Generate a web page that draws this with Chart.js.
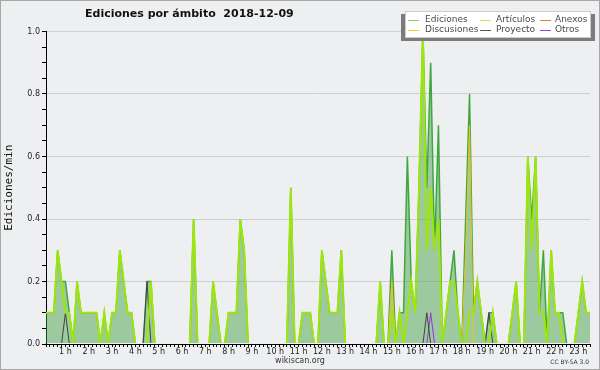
<!DOCTYPE html>
<html lang="es">
<head>
<meta charset="UTF-8">
<title>Ediciones por ámbito 2018-12-09</title>
<script src="https://cdn.jsdelivr.net/npm/chart.js"></script>
<style>
    html, body {
        margin: 0;
        padding: 0;
        background: #eeeff1;
    }

    .wrap {
        position: relative;
        width: 600px;
        height: 370px;
    }
</style>
</head>
<body>
<div class="wrap"><canvas id="chart"></canvas></div>

<script>
    // one value per 10 minute bin, starting at 00:00 (edits per minute)
    const binMinutes = 10;

    const ediciones = [
        0.1, 0.1, 0.1, 0.1, 0.3, 0.2, 0.2, 0.1, 0, 0.2,
        0.1, 0.1, 0.1, 0.1, 0.1, 0, 0.1, 0, 0.1, 0.1,
        0.3, 0.2, 0.1, 0.1, 0, 0, 0, 0.2, 0.2, 0,
        0, 0, 0, 0, 0, 0, 0, 0, 0, 0.4,
        0, 0, 0, 0, 0.2, 0.1, 0, 0, 0.1, 0.1,
        0.1, 0.4, 0.3, 0, 0, 0, 0, 0, 0, 0,
        0, 0, 0, 0, 0.5, 0, 0, 0.1, 0.1, 0.1,
        0, 0, 0.3, 0.2, 0.1, 0.1, 0.1, 0.3, 0, 0,
        0, 0, 0, 0, 0, 0, 0, 0.2, 0, 0,
        0.3, 0, 0.1, 0.1, 0.6, 0.2, 0.1, 0.5, 1.0, 0.5,
        0.9, 0.3, 0.7, 0, 0.1, 0.2, 0.3, 0.1, 0, 0.4,
        0.8, 0.1, 0.2, 0.1, 0, 0.1, 0.1, 0, 0, 0,
        0, 0.1, 0.2, 0, 0, 0.6, 0.4, 0.6, 0.1, 0.3,
        0, 0.3, 0.1, 0.1, 0.1, 0, 0, 0, 0.1, 0.2,
        0.1, 0.1
    ];

    const articulos = [
        0.1, 0.1, 0.1, 0.1, 0.3, 0.2, 0.1, 0.1, 0, 0.2,
        0.1, 0.1, 0.1, 0.1, 0.1, 0, 0.1, 0, 0.1, 0.1,
        0.3, 0.2, 0.1, 0.1, 0, 0, 0, 0, 0.2, 0,
        0, 0, 0, 0, 0, 0, 0, 0, 0, 0.4,
        0, 0, 0, 0, 0.2, 0.1, 0, 0, 0.1, 0.1,
        0.1, 0.4, 0.3, 0, 0, 0, 0, 0, 0, 0,
        0, 0, 0, 0, 0.5, 0, 0, 0.1, 0.1, 0.1,
        0, 0, 0.3, 0.2, 0.1, 0.1, 0.1, 0.3, 0, 0,
        0, 0, 0, 0, 0, 0, 0, 0.2, 0, 0,
        0.1, 0, 0.1, 0, 0.1, 0.2, 0.1, 0.5, 1.0, 0.3,
        0.5, 0.3, 0.4, 0, 0.1, 0.2, 0.2, 0.1, 0, 0,
        0.1, 0.1, 0.2, 0.1, 0, 0, 0.1, 0, 0, 0,
        0, 0.1, 0.2, 0, 0, 0.6, 0.3, 0.6, 0.1, 0.1,
        0, 0.3, 0.1, 0.1, 0, 0, 0, 0, 0.1, 0.2,
        0.1, 0.1
    ];

    const discusiones = [
        0, 0, 0, 0, 0, 0, 0, 0, 0, 0,
        0, 0, 0, 0, 0, 0, 0, 0, 0, 0,
        0, 0, 0, 0, 0, 0, 0, 0, 0, 0,
        0, 0, 0, 0, 0, 0, 0, 0, 0, 0,
        0, 0, 0, 0, 0, 0, 0, 0, 0, 0,
        0, 0, 0, 0, 0, 0, 0, 0, 0, 0,
        0, 0, 0, 0, 0, 0, 0, 0, 0, 0,
        0, 0, 0, 0, 0, 0, 0, 0, 0, 0,
        0, 0, 0, 0, 0, 0, 0, 0, 0, 0,
        0.2, 0, 0, 0, 0, 0, 0, 0, 0, 0,
        0, 0, 0, 0, 0, 0, 0, 0, 0, 0.3,
        0.7, 0, 0, 0, 0, 0, 0, 0, 0, 0,
        0, 0, 0, 0, 0, 0, 0, 0, 0, 0,
        0, 0, 0, 0, 0, 0, 0, 0, 0, 0,
        0, 0
    ];

    const proyecto = [
        0, 0, 0, 0, 0, 0, 0.1, 0, 0, 0,
        0, 0, 0, 0, 0, 0, 0, 0, 0, 0,
        0, 0, 0, 0, 0, 0, 0, 0.2, 0, 0,
        0, 0, 0, 0, 0, 0, 0, 0, 0, 0,
        0, 0, 0, 0, 0, 0, 0, 0, 0, 0,
        0, 0, 0, 0, 0, 0, 0, 0, 0, 0,
        0, 0, 0, 0, 0, 0, 0, 0, 0, 0,
        0, 0, 0, 0, 0, 0, 0, 0, 0, 0,
        0, 0, 0, 0, 0, 0, 0, 0, 0, 0,
        0, 0, 0, 0, 0, 0, 0, 0, 0, 0.1,
        0, 0, 0, 0, 0, 0, 0, 0, 0, 0,
        0, 0, 0, 0, 0, 0.1, 0, 0, 0, 0,
        0, 0, 0, 0, 0, 0, 0, 0, 0, 0,
        0, 0, 0, 0, 0, 0, 0, 0, 0, 0,
        0, 0
    ];

    const otros = [
        0, 0, 0, 0, 0, 0, 0, 0, 0, 0,
        0, 0, 0, 0, 0, 0, 0, 0, 0, 0,
        0, 0, 0, 0, 0, 0, 0, 0, 0, 0,
        0, 0, 0, 0, 0, 0, 0, 0, 0, 0,
        0, 0, 0, 0, 0, 0, 0, 0, 0, 0,
        0, 0, 0, 0, 0, 0, 0, 0, 0, 0,
        0, 0, 0, 0, 0, 0, 0, 0, 0, 0,
        0, 0, 0, 0, 0, 0, 0, 0, 0, 0,
        0, 0, 0, 0, 0, 0, 0, 0, 0, 0,
        0, 0, 0, 0, 0, 0, 0, 0, 0, 0,
        0.1, 0, 0, 0, 0, 0, 0, 0, 0, 0,
        0, 0, 0, 0, 0, 0, 0, 0, 0, 0,
        0, 0, 0, 0, 0, 0, 0, 0, 0, 0,
        0, 0, 0, 0, 0, 0, 0, 0, 0, 0,
        0, 0
    ];

    // nothing visible for Anexos on this day
    const anexos = [];

    // legend order: row by row, three columns
    const seriesNames = ['Ediciones', 'Artículos', 'Anexos', 'Discusiones', 'Proyecto', 'Otros'];
    const seriesData = [ediciones, articulos, anexos, discusiones, proyecto, otros];
    const seriesColors = ['#3ea83e', '#9ee60c', '#f06a3a', '#f0c21c', '#444444', '#9a30e8'];
    const legendColors = ['#88cc88', '#bbee44', '#ee7744', '#eecc44', '#555555', '#8844ee'];

    const xMin = 10;
    const xMax = 1410;

    function toPoints(arr) {
        return arr.map((v, i) => ({ x: i * binMinutes, y: v }));
    }

    const datasets = seriesNames.map((name, i) => {
        const isTotal = i === 0;
        return {
            label: name,
            data: toPoints(seriesData[i]),
            borderColor: seriesColors[i],
            backgroundColor: isTotal ? 'rgba(62,158,62,0.46)' : seriesColors[i],
            fill: isTotal ? 'origin' : false,
            borderWidth: isTotal ? 1.5 : (i === 1 ? 2 : 1),
            pointRadius: 0,
            tension: 0,
            order: isTotal ? 5 : (i === 1 ? 1 : 2),
            clip: { left: 0, top: 10, right: 0, bottom: -1 }
        };
    });

    const decorations = {
        id: 'decorations',
        beforeDraw(chart) {
            const { ctx, width, height } = chart;
            ctx.save();
            ctx.fillStyle = '#eeeff1';
            ctx.fillRect(0, 0, width, height);
            ctx.restore();
        },
        afterDraw(chart) {
            const { ctx, width, height } = chart;
            ctx.save();

            // title
            ctx.fillStyle = '#111';
            ctx.font = 'bold 11px "DejaVu Sans"';
            ctx.textBaseline = 'middle';
            ctx.textAlign = 'left';
            ctx.fillText('Ediciones por ámbito  2018-12-09', 85, 14);

            // footer
            ctx.fillStyle = '#333';
            ctx.font = '8px "DejaVu Sans"';
            ctx.textAlign = 'center';
            ctx.fillText('wikiscan.org', 300, 361);
            ctx.font = '6px "DejaVu Sans"';
            ctx.textAlign = 'right';
            ctx.fillText('CC BY-SA 3.0', 589, 362);

            // legend box with shadow
            ctx.fillStyle = '#7c7c7c';
            ctx.fillRect(401, 14, 194, 27);
            ctx.fillStyle = '#ffffff';
            ctx.fillRect(405, 11, 186, 27);
            ctx.strokeStyle = '#cccccc';
            ctx.lineWidth = 1;
            ctx.strokeRect(405.5, 11.5, 185, 26);

            const lineX = [408, 480, 540];
            const textX = [425, 496, 555];
            const rowY = [20, 29.5];
            ctx.font = '9px "DejaVu Sans"';
            ctx.textAlign = 'left';
            chart.data.datasets.forEach((ds, i) => {
                const col = i % 3;
                const row = Math.floor(i / 3);
                const y = rowY[row];
                ctx.strokeStyle = legendColors[i];
                ctx.lineWidth = 1;
                ctx.beginPath();
                ctx.moveTo(lineX[col], Math.round(y) + 0.5);
                ctx.lineTo(lineX[col] + 11, Math.round(y) + 0.5);
                ctx.stroke();
                ctx.fillStyle = '#4a4a4a';
                ctx.fillText(ds.label, textX[col], y);
            });

            // outer frame
            ctx.strokeStyle = '#a8a8a8';
            ctx.strokeRect(0.5, 0.5, width - 1, height - 1);
            ctx.restore();
        }
    };

    new Chart(document.getElementById('chart'), {
        type: 'line',
        data: { datasets: datasets },
        options: {
            responsive: true,
            maintainAspectRatio: false,
            animation: false,
            layout: { padding: { left: 0, right: 10, top: 31.5, bottom: 0 } },
            plugins: {
                legend: { display: false },
                title: { display: false },
                tooltip: { enabled: false }
            },
            scales: {
                x: {
                    type: 'linear',
                    min: xMin,
                    max: xMax,
                    z: 1,
                    afterFit(scale) { scale.height = 26; },
                    border: { display: true, color: '#000', width: 1 },
                    grid: {
                        drawOnChartArea: false,
                        drawTicks: true,
                        tickLength: 3,
                        tickColor: '#000'
                    },
                    ticks: {
                        stepSize: binMinutes,
                        autoSkip: false,
                        maxRotation: 0,
                        padding: 0,
                        color: '#222',
                        font: { family: 'DejaVu Sans', size: 8 },
                        callback: (v) => (v % 60 === 0 && v > 0) ? (v / 60) + ' h' : ''
                    }
                },
                y: {
                    min: 0,
                    max: 1,
                    afterFit(scale) { scale.width = 46; },
                    border: { display: true, color: '#000', width: 1 },
                    grid: {
                        drawTicks: true,
                        tickLength: 4,
                        tickColor: '#000',
                        color: (ctx) => {
                            const v = ctx.tick ? ctx.tick.value : 0;
                            const onMajor = Math.abs(v * 5 - Math.round(v * 5)) < 1e-6;
                            return (onMajor && v > 0) ? '#cfcfcf' : 'rgba(0,0,0,0)';
                        }
                    },
                    ticks: {
                        stepSize: 0.05,
                        padding: 2,
                        color: '#222',
                        font: { family: 'DejaVu Sans', size: 8 },
                        callback: (v) => Math.abs(v * 5 - Math.round(v * 5)) < 1e-6 ? v.toFixed(1) : ''
                    },
                    title: {
                        display: true,
                        text: 'Ediciones/min',
                        color: '#111',
                        font: { family: 'DejaVu Sans Mono', size: 11 },
                        padding: { top: 3, bottom: 0 }
                    }
                }
            }
        },
        plugins: [decorations]
    });
</script>
</body>
</html>
